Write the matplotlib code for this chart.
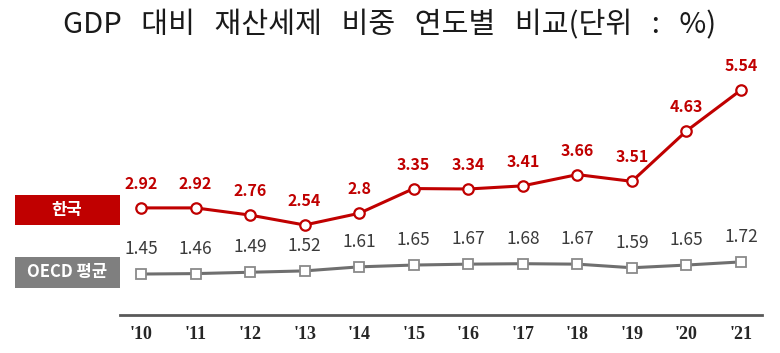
import matplotlib
matplotlib.use('Agg')

import matplotlib.pyplot as plt
from matplotlib.patches import Rectangle

plt.rcParams['font.family'] = ['Noto Sans CJK KR', 'DejaVu Sans']

# ============================================================
# DATA
# ============================================================

years = ["'10", "'11", "'12", "'13", "'14", "'15",
         "'16", "'17", "'18", "'19", "'20", "'21"]

korea = [2.92, 2.92, 2.76, 2.54, 2.8, 3.35,
         3.34, 3.41, 3.66, 3.51, 4.63, 5.54]

oecd = [1.45, 1.46, 1.49, 1.52, 1.61, 1.65,
        1.67, 1.68, 1.67, 1.59, 1.65, 1.72]

korea_labels = ['2.92', '2.92', '2.76', '2.54', '2.8', '3.35',
                '3.34', '3.41', '3.66', '3.51', '4.63', '5.54']

oecd_labels = ['1.45', '1.46', '1.49', '1.52', '1.61', '1.65',
               '1.67', '1.68', '1.67', '1.59', '1.65', '1.72']

title_words = ['GDP', '대비', '재산세제', '비중', '연도별', '비교(단위', ':', '%)']

RED = '#c00000'
GRAY = '#7f7f7f'

W, H = 780, 353

# ============================================================
# FIGURE
# ============================================================

fig = plt.figure(figsize=(W / 100, H / 100), dpi=100)

ax_left, ax_right = 120, 762
ax_top, ax_bottom = 60, 315

ax = fig.add_axes([
    ax_left / W,
    1 - ax_bottom / H,
    (ax_right - ax_left) / W,
    (ax_bottom - ax_top) / H
])

x = list(range(len(years)))

ax.plot(
    x, korea,
    color=RED, linewidth=2.2,
    marker='o', markersize=7.5,
    markerfacecolor='white', markeredgecolor=RED, markeredgewidth=1.6,
    zorder=3
)

ax.plot(
    x, oecd,
    color='#6f6f6f', linewidth=2.2,
    marker='s', markersize=6.5,
    markerfacecolor='white', markeredgecolor='#8a8a8a', markeredgewidth=1.3,
    zorder=3
)

for xi, v, lab in zip(x, korea, korea_labels):
    ax.annotate(
        lab, (xi, v),
        xytext=(0, 16), textcoords='offset pixels',
        ha='center', va='bottom',
        fontsize=11.5, fontweight='bold', color=RED
    )

for xi, v, lab in zip(x, oecd, oecd_labels):
    ax.annotate(
        lab, (xi, v),
        xytext=(0, 16), textcoords='offset pixels',
        ha='center', va='bottom',
        fontsize=12.5, fontweight='medium', color='#3a3a3a'
    )

px_per_unit = (741 - 141) / 11
ax.set_xlim(-(141 - ax_left) / px_per_unit,
            11 + (ax_right - 741) / px_per_unit)

ax.set_ylim(0.54, 0.54 + (ax_bottom - ax_top) / 45)

ax.set_xticks(x)
ax.set_xticklabels(years, fontsize=13, fontweight='bold', color='#262626',
                   family='Liberation Serif')
ax.tick_params(axis='x', length=0, pad=8)
ax.set_yticks([])

for side in ['left', 'right', 'top']:
    ax.spines[side].set_visible(False)

ax.spines['bottom'].set_color('#595959')
ax.spines['bottom'].set_linewidth(2)

# ============================================================
# LEGEND BOXES
# ============================================================

def legend_box(y0, y1, color, text):

    fig.patches.append(Rectangle(
        (15 / W, 1 - y1 / H),
        (120 - 15) / W,
        (y1 - y0) / H,
        transform=fig.transFigure,
        facecolor=color, edgecolor='none'
    ))

    fig.text(
        67 / W, 1 - (y0 + y1) / 2 / H,
        text,
        ha='center', va='center',
        fontsize=12, fontweight='bold', color='white'
    )

legend_box(195, 225, RED, '한국')
legend_box(257, 288, GRAY, 'OECD 평균')

# ============================================================
# TITLE (wide word spacing as in the original)
# ============================================================

fig.text(
    390 / W, 1 - 25 / H,
    '   '.join(title_words),
    ha='center', va='center',
    fontsize=21, color='#1a1a1a'
)

plt.savefig('out.png', dpi=100)
